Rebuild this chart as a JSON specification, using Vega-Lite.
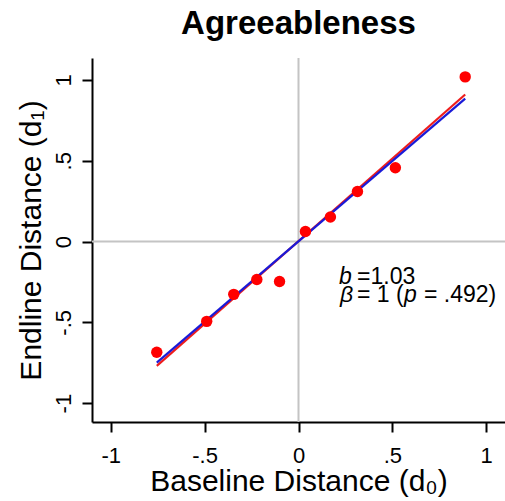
{
  "$schema": "https://vega.github.io/schema/vega-lite/v6.json",
  "autosize": "none",
  "width": 413,
  "height": 364,
  "padding": {"left": 92, "top": 58, "right": 0, "bottom": 79},
  "background": "white",
  "config": {
    "font": "Liberation Sans",
    "view": {"stroke": null},
    "axis": {
      "grid": false,
      "domainColor": "black",
      "domainWidth": 2,
      "tickColor": "black",
      "tickWidth": 2,
      "tickSize": 10,
      "labelFontSize": 22,
      "labelColor": "black",
      "titleFontSize": 30,
      "titleFontWeight": "normal",
      "titleColor": "black",
      "labelFont": "Liberation Sans",
      "titleFont": "Liberation Sans"
    }
  },
  "title": {
    "text": "Agreeableness",
    "fontSize": 33,
    "fontWeight": "bold",
    "font": "Liberation Sans",
    "color": "black",
    "anchor": "middle",
    "offset": 16
  },
  "datasets": {
    "points": [
      {"x": -0.755, "y": -0.685},
      {"x": -0.489, "y": -0.494},
      {"x": -0.345, "y": -0.327},
      {"x": -0.222, "y": -0.235},
      {"x": -0.101, "y": -0.247},
      {"x": 0.037, "y": 0.062},
      {"x": 0.17, "y": 0.152},
      {"x": 0.314, "y": 0.31},
      {"x": 0.516, "y": 0.457},
      {"x": 0.888, "y": 1.019}
    ],
    "fit": [
      {"x": -0.755, "y": -0.77},
      {"x": 0.888, "y": 0.91}
    ],
    "ref": [
      {"x": -0.755, "y": -0.75},
      {"x": 0.888, "y": 0.885}
    ],
    "italic": [
      {"x": 0.2158, "y": -0.263, "t": "b"},
      {"x": 0.2211, "y": -0.374, "t": "β"},
      {"x": 0.5621, "y": -0.374, "t": "p"}
    ],
    "plain": [
      {"x": 0.3117, "y": -0.263, "t": "=1.03"},
      {"x": 0.3117, "y": -0.374, "t": "= 1 ("},
      {"x": 0.6687, "y": -0.374, "t": "= .492)"}
    ]
  },
  "layer": [
    {
      "data": {"values": [{"v": 0}]},
      "mark": {"type": "rule", "color": "#c4c4c4", "strokeWidth": 2},
      "encoding": {"x": {"field": "v", "type": "quantitative", "scale": {"domain": [-1.1, 1.1]}}}
    },
    {
      "data": {"values": [{"v": 0}]},
      "mark": {"type": "rule", "color": "#c4c4c4", "strokeWidth": 2},
      "encoding": {"y": {"field": "v", "type": "quantitative", "scale": {"domain": [-1.117, 1.136]}}}
    },
    {
      "data": {"name": "fit"},
      "mark": {"type": "line", "color": "#ee1c1c", "strokeWidth": 2.2},
      "encoding": {
        "x": {"field": "x", "type": "quantitative"},
        "y": {"field": "y", "type": "quantitative"}
      }
    },
    {
      "data": {"name": "ref"},
      "mark": {"type": "line", "color": "#1a1ad8", "strokeWidth": 2.2},
      "encoding": {
        "x": {"field": "x", "type": "quantitative"},
        "y": {"field": "y", "type": "quantitative"}
      }
    },
    {
      "data": {"name": "points"},
      "mark": {"type": "point", "filled": true, "color": "#ff0000", "opacity": 1, "size": 130},
      "encoding": {
        "x": {
          "field": "x", "type": "quantitative",
          "scale": {"domain": [-1.1, 1.1], "nice": false, "zero": false},
          "axis": {
            "title": "Baseline Distance (d₀)",
            "values": [-1, -0.5, 0, 0.5, 1],
            "labelExpr": "datum.value == -1 ? '-1' : datum.value == -0.5 ? '-.5' : datum.value == 0 ? '0' : datum.value == 0.5 ? '.5' : '1'",
            "labelPadding": 13,
            "titlePadding": 0
          }
        },
        "y": {
          "field": "y", "type": "quantitative",
          "scale": {"domain": [-1.117, 1.136], "nice": false, "zero": false},
          "axis": {
            "title": "Endline Distance (d₁)",
            "values": [-1, -0.5, 0, 0.5, 1],
            "labelExpr": "datum.value == -1 ? '-1' : datum.value == -0.5 ? '-.5' : datum.value == 0 ? '0' : datum.value == 0.5 ? '.5' : '1'",
            "labelAngle": -90,
            "labelAlign": "center",
            "labelBaseline": "alphabetic",
            "labelPadding": 12,
            "titlePadding": 6
          }
        }
      }
    },
    {
      "data": {"name": "italic"},
      "mark": {"type": "text", "align": "left", "baseline": "alphabetic", "fontSize": 23, "fontStyle": "italic", "color": "black", "font": "Liberation Sans"},
      "encoding": {
        "x": {"field": "x", "type": "quantitative"},
        "y": {"field": "y", "type": "quantitative"},
        "text": {"field": "t"}
      }
    },
    {
      "data": {"name": "plain"},
      "mark": {"type": "text", "align": "left", "baseline": "alphabetic", "fontSize": 23, "color": "black", "font": "Liberation Sans"},
      "encoding": {
        "x": {"field": "x", "type": "quantitative"},
        "y": {"field": "y", "type": "quantitative"},
        "text": {"field": "t"}
      }
    }
  ]
}
